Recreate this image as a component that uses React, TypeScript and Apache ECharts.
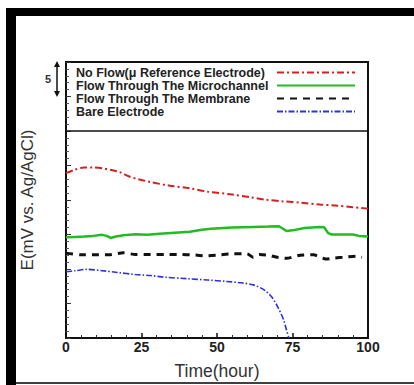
import React, { useEffect, useRef } from "react";
import * as echarts from "echarts";

const legendNames = [
  "No Flow(μ Reference Electrode)",
  "Flow Through The Microchannel",
  "Flow Through The Membrane",
  "Bare Electrode",
];

const noFlow: [number, number][] = [
  [0, 23.9], [3, 24.4], [6, 24.7], [9, 24.7], [12, 24.6], [15, 24.35], [18, 24.0],
  [21, 23.4], [24, 23.0], [28, 22.6], [34, 22.1], [41, 21.7], [47, 21.2], [55, 20.8],
  [61, 20.4], [66, 20.05], [72, 19.8], [78, 19.6], [84, 19.35], [89, 19.2], [95, 18.95], [100, 18.75],
];

const microchannel: [number, number][] = [
  [0, 14.6], [3, 14.65], [6, 14.7], [9, 14.8], [12, 14.95], [13.5, 14.8], [14.8, 14.5],
  [16.5, 14.7], [19, 14.9], [23, 15.05], [27, 14.95], [31, 15.1], [36, 15.25], [41, 15.4],
  [45, 15.7], [48, 15.85], [55, 16.0], [62, 16.1], [67, 16.15], [70.5, 16.2], [72, 15.8],
  [73, 15.5], [75, 15.6], [79, 15.95], [84, 16.1], [85.5, 16.05], [86.8, 15.2], [88, 15.0],
  [92, 15.0], [95, 15.0], [97, 14.8], [100, 14.7],
];

const membrane: [number, number][] = [
  [0, 12.3], [5, 12.05], [10, 12.05], [14, 12.05], [19, 12.35], [23, 12.1], [28, 12.1],
  [33, 12.1], [38, 12.1], [42, 12.05], [46.5, 11.9], [50, 12.0], [55, 12.2], [60, 12.2],
  [62, 11.7], [64, 12.1], [67, 12.0], [70, 11.7], [73, 11.55], [77.5, 12.0], [82, 12.05],
  [86, 11.45], [89, 11.6], [92, 11.7], [96, 11.85], [98, 11.7],
];

const bare: [number, number][] = [
  [0, 9.6], [3, 9.75], [7, 9.95], [12, 9.75], [17, 9.5], [23, 9.2], [28, 9.05], [33, 8.8],
  [40, 8.6], [47, 8.4], [53, 8.2], [58, 8.0], [62, 7.7], [65.5, 7.0], [68, 6.0], [70, 4.6],
  [72, 2.7], [73, 1.2], [73.8, 0],
];

const xTicks = [0, 25, 50, 75, 100];
const legendDivider = 30;

export default function App() {
  const ref = useRef<HTMLDivElement>(null);
  useEffect(() => {
    if (!ref.current) return;
    const chart = echarts.init(ref.current, undefined, { renderer: "svg" });
    const font = "Liberation Sans, Arial, sans-serif";
    chart.setOption({
      animation: false,
      backgroundColor: "#ffffff",
      grid: { left: 66, right: 46, top: 62, bottom: 43, show: true, borderColor: "#111", borderWidth: 2, backgroundColor: "transparent" },
      legend: {
        data: legendNames,
        orient: "vertical",
        left: 76,
        top: 66,
        padding: 0,
        align: "right",
        itemWidth: 78,
        itemHeight: 10,
        itemGap: 0,
        itemStyle: { opacity: 0 },
        formatter: (name: string) => `{a|${name}}`,
        textStyle: {
          fontFamily: font, fontWeight: "bold", fontSize: 12.5, color: "#222",
          rich: { a: { width: 196, align: "left", fontFamily: font, fontWeight: "bold", fontSize: 12.5, color: "#222", lineHeight: 12.5 } },
        },
      },
      xAxis: {
        type: "value",
        min: xTicks[0],
        max: xTicks[xTicks.length - 1],
        interval: 25,
        name: "Time(hour)",
        nameLocation: "middle",
        nameGap: 24,
        nameTextStyle: { fontFamily: font, fontSize: 17.5, color: "#333" },
        axisLine: { lineStyle: { color: "#111", width: 2 } },
        axisTick: { inside: true, length: 5, lineStyle: { color: "#111", width: 1.5 } },
        minorTick: { show: true, splitNumber: 5, length: 3, lineStyle: { color: "#333", width: 1 } },
        axisLabel: { fontFamily: font, fontWeight: "bold", fontSize: 14, color: "#222", margin: 2 },
        splitLine: { show: false },
      },
      yAxis: {
        type: "value",
        min: 0,
        max: 40,
        interval: 5,
        name: "E(mV vs. Ag/AgCl)",
        nameLocation: "middle",
        nameGap: 30,
        nameTextStyle: { fontFamily: font, fontSize: 17, color: "#333" },
        axisLine: { lineStyle: { color: "#111", width: 2 } },
        axisTick: { inside: true, length: 5, lineStyle: { color: "#333", width: 1 } },
        minorTick: { show: true, splitNumber: 5, length: 3, lineStyle: { color: "#555", width: 1 } },
        axisLabel: { show: false },
        splitLine: { show: false },
      },
      graphic: [
        { type: "rect", shape: { x: 6, y: 8, width: 408, height: 8 }, style: { fill: "#000" } },
        { type: "rect", shape: { x: 6, y: 8, width: 10, height: 377 }, style: { fill: "#000" } },
        { type: "line", shape: { x1: 16, y1: 383, x2: 414, y2: 383 }, style: { stroke: "#000", lineWidth: 1.5 } },
        { type: "line", shape: { x1: 57, y1: 65, x2: 57, y2: 93 }, style: { stroke: "#111", lineWidth: 1.5 } },
        { type: "polygon", shape: { points: [[54, 67], [60, 67], [57, 61]] }, style: { fill: "#111" } },
        { type: "polygon", shape: { points: [[54, 91], [60, 91], [57, 97]] }, style: { fill: "#111" } },
        { type: "text", x: 48, y: 79, style: { text: "5", fontFamily: font, fontWeight: "bold", fontSize: 11, fill: "#333", align: "center", verticalAlign: "middle" } },
      ],
      series: [
        {
          name: legendNames[0], type: "line", data: noFlow, symbol: "none", smooth: 0.3,
          lineStyle: { color: "#d42020", width: 2, type: [7, 3, 2, 3] },
          itemStyle: { color: "#d42020" },
          markLine: {
            silent: true, symbol: "none", label: { show: false },
            lineStyle: { color: "#111", width: 1.5, type: "solid" },
            data: [{ yAxis: legendDivider }],
          },
        },
        {
          name: legendNames[1], type: "line", data: microchannel, symbol: "none",
          lineStyle: { color: "#22bb22", width: 2.5, type: "solid" },
          itemStyle: { color: "#22bb22" },
        },
        {
          name: legendNames[2], type: "line", data: membrane, symbol: "none", smooth: 0.2,
          lineStyle: { color: "#111", width: 3, type: [7, 6] },
          itemStyle: { color: "#111" },
        },
        {
          name: legendNames[3], type: "line", data: bare, symbol: "none", smooth: 0.3,
          lineStyle: { color: "#3030e0", width: 1.6, type: [6, 2, 1.5, 2] },
          itemStyle: { color: "#3030e0" },
        },
      ],
    });
    return () => chart.dispose();
  }, []);
  return <div ref={ref} style={{ width: 414, height: 385, position: "absolute", left: 0, top: 0 }} />;
}
